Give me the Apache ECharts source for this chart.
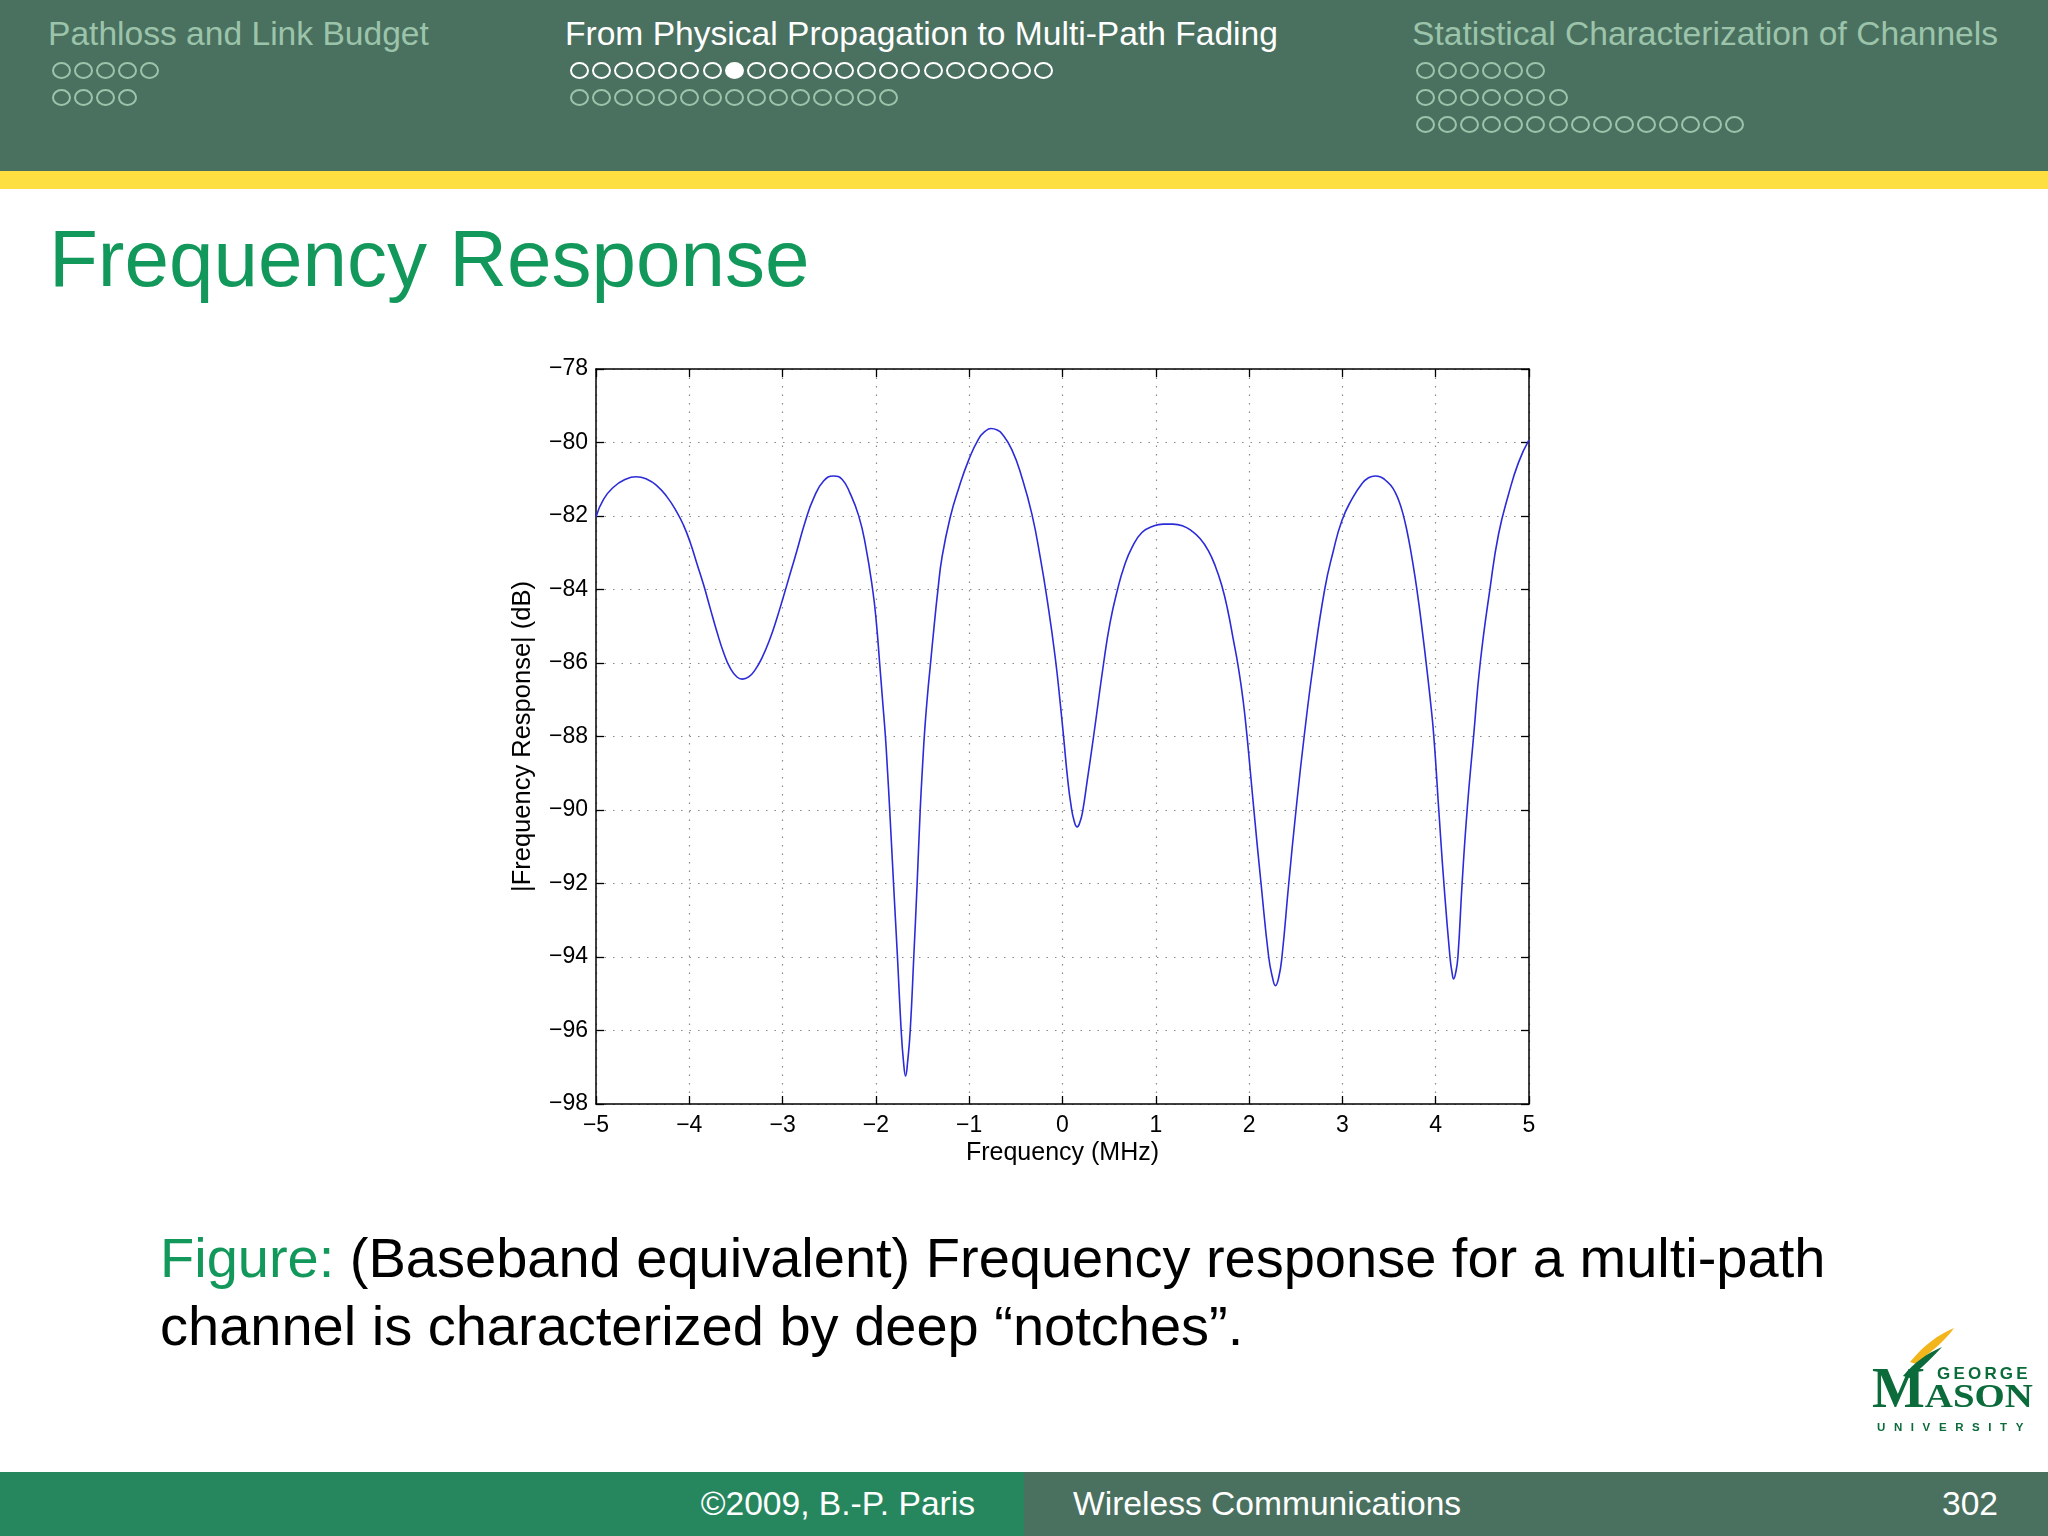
<!DOCTYPE html>
<html>
<head>
<meta charset="utf-8">
<script src="https://cdn.jsdelivr.net/npm/echarts@6/dist/echarts.min.js"></script>
<style>
html,body{margin:0;padding:0;}
body{width:2048px;height:1536px;position:relative;overflow:hidden;background:#fff;font-family:"Liberation Sans",Arial,sans-serif;}
#head{position:absolute;left:0;top:0;width:2048px;height:171px;background:#4a7160;}
#yel{position:absolute;left:0;top:171px;width:2048px;height:18px;background:#fddf42;}
.sec{position:absolute;font-size:33.6px;line-height:33px;white-space:nowrap;}
.dim{color:#9cc4aa;}
.act{color:#ffffff;}
.row{position:absolute;height:17px;white-space:nowrap;font-size:0;}
.dot{display:inline-block;width:15px;height:13px;border:2px solid #9cc4aa;border-radius:50%;margin-right:3.1px;}
.row.act .dot{border-color:#ffffff;}
.dot.full{background:#ffffff;}
#title{position:absolute;left:49px;top:214px;font-size:80px;line-height:90px;color:#12985a;white-space:nowrap;}
#cap{position:absolute;left:160px;top:1224px;font-size:56px;line-height:68px;color:#000;white-space:nowrap;}
#cap span{color:#12985a;}
#footL{position:absolute;left:0;top:1472px;width:1024px;height:64px;background:#26875f;}
#footR{position:absolute;left:1024px;top:1472px;width:1024px;height:64px;background:#4a7160;}
.ft{position:absolute;top:1487px;font-size:33.6px;line-height:34px;color:#fff;white-space:nowrap;}
#chart{position:absolute;left:0;top:0;width:2048px;height:1536px;}
#logo{position:absolute;left:1870px;top:1320px;width:170px;height:120px;}
</style>
</head>
<body>
<div id="head"></div>
<div id="yel"></div>
<div class="sec dim" style="left:48px;top:17px;">Pathloss and Link Budget</div>
<div class="sec act" style="left:565px;top:17px;">From Physical Propagation to Multi-Path Fading</div>
<div class="sec dim" style="left:1412px;top:17px;">Statistical Characterization of Channels</div>
<div id="dots"></div>
<div id="title">Frequency Response</div>
<div id="chart"></div>
<div id="cap"><span>Figure:</span> (Baseband equivalent) Frequency response for a multi-path<br>channel is characterized by deep “notches”.</div>
<div id="footL"></div>
<div id="footR"></div>
<div class="ft" style="right:1073px;">©2009, B.-P. Paris</div>
<div class="ft" style="left:1073px;">Wireless Communications</div>
<div class="ft" style="right:50px;">302</div>
<svg id="logo" viewBox="0 0 170 120">
  <path d="M40 42 C55 24 68 15 84 8 C76 20 62 31 46 44 Z" fill="#f2b61c"/>
  <path d="M33 56 C45 42 56 34 72 27 C63 37 52 47 40 58 Z" fill="#0b6b3a"/>
  <text x="67" y="59" font-family="Liberation Sans" font-weight="bold" font-size="17" letter-spacing="3.2" fill="#0b6b3a">GEORGE</text>
  <text x="2" y="87" font-family="Liberation Serif" font-weight="bold" fill="#0b6b3a"><tspan font-size="56">M</tspan><tspan font-size="34" textLength="108" lengthAdjust="spacingAndGlyphs">ASON</tspan></text>
  <text x="7" y="111" font-family="Liberation Sans" font-weight="bold" font-size="11.5" letter-spacing="8.6" fill="#0b6b3a">UNIVERSITY</text>
</svg>
<script>
// ---- data ----
var freqMHz = [
 -5.000,-4.918,-4.810,-4.700,-4.571,-4.454,-4.346,-4.239,-4.132,-4.060,
 -3.990,-3.918,-3.846,-3.775,-3.704,-3.632,-3.561,-3.489,-3.432,-3.364,
 -3.293,-3.221,-3.132,-3.061,-3.000,-2.918,-2.846,-2.757,-2.668,-2.561,
 -2.453,-2.363,-2.274,-2.185,-2.113,-2.035,-1.995,-1.960,-1.929,-1.898,
 -1.874,-1.852,-1.811,-1.769,-1.729,-1.704,-1.682,-1.660,-1.632,-1.594,
 -1.558,-1.525,-1.500,-1.476,-1.446,-1.416,-1.378,-1.337,-1.290,-1.200,
 -1.113,-1.006,-0.899,-0.830,-0.767,-0.700,-0.649,-0.542,-0.435,-0.328,
 -0.238,-0.160,-0.078,-0.024,0.015,0.055,0.090,0.125,0.157,0.188,
 0.215,0.265,0.333,0.441,0.510,0.590,0.660,0.744,0.851,0.970,
 1.080,1.184,1.290,1.380,1.476,1.560,1.640,1.710,1.770,1.830,
 1.887,1.935,1.976,2.015,2.055,2.128,2.210,2.250,2.283,2.318,
 2.352,2.425,2.503,2.590,2.690,2.810,2.900,2.995,3.102,3.209,
 3.280,3.352,3.420,3.459,3.520,3.566,3.610,3.650,3.690,3.735,
 3.778,3.820,3.860,3.900,3.940,3.980,4.033,4.088,4.153,4.175,
 4.192,4.215,4.238,4.283,4.337,4.406,4.477,4.584,4.674,4.781,
 4.888,5.000
];
var responseDb = [
 -82.02,-81.54,-81.21,-81.02,-80.93,-81.00,-81.18,-81.48,-81.90,-82.26,
 -82.72,-83.30,-83.88,-84.52,-85.15,-85.72,-86.14,-86.38,-86.44,-86.38,
 -86.18,-85.86,-85.32,-84.78,-84.27,-83.56,-82.94,-82.15,-81.52,-81.05,
 -80.91,-81.00,-81.40,-81.99,-82.77,-84.00,-84.90,-86.00,-87.00,-88.00,
 -89.00,-90.00,-92.00,-94.00,-96.00,-96.85,-97.24,-96.85,-96.00,-94.00,
 -92.00,-90.00,-88.80,-87.80,-86.85,-86.05,-85.05,-84.05,-83.10,-82.00,
 -81.25,-80.48,-79.90,-79.70,-79.62,-79.66,-79.76,-80.20,-80.95,-81.95,
 -83.13,-84.35,-85.85,-87.10,-88.10,-89.15,-89.85,-90.30,-90.46,-90.32,
 -90.05,-89.20,-88.00,-86.00,-84.90,-84.00,-83.38,-82.86,-82.45,-82.28,
 -82.22,-82.22,-82.27,-82.40,-82.62,-82.93,-83.38,-83.92,-84.55,-85.35,
 -86.15,-87.00,-87.95,-89.00,-90.10,-92.00,-94.00,-94.55,-94.78,-94.55,
 -94.00,-92.00,-90.00,-88.00,-86.00,-84.00,-82.98,-82.12,-81.54,-81.12,
 -80.96,-80.91,-80.95,-81.02,-81.17,-81.36,-81.62,-81.95,-82.38,-82.98,
 -83.65,-84.40,-85.20,-86.05,-86.95,-88.00,-90.00,-92.00,-94.00,-94.42,
 -94.60,-94.42,-94.00,-92.00,-90.00,-88.00,-86.00,-83.94,-82.49,-81.41,
 -80.54,-79.93
];
var xTicks = [-5,-4,-3,-2,-1,0,1,2,3,4,5];
var yTicks = [-98,-96,-94,-92,-90,-88,-86,-84,-82,-80,-78];
var xLabel = 'Frequency (MHz)';
var yLabel = '|Frequency Response| (dB)';

// ---- header navigation dots ----
var navRows = [
  {x:52, y:62, n:5, active:false, fill:-1},
  {x:52, y:89, n:4, active:false, fill:-1},
  {x:570, y:62, n:22, active:true, fill:7},
  {x:570, y:89, n:15, active:false, fill:-1},
  {x:1416, y:62, n:6, active:false, fill:-1},
  {x:1416, y:89, n:7, active:false, fill:-1},
  {x:1416, y:116, n:15, active:false, fill:-1}
];
var dotsHtml = '';
navRows.forEach(function(r){
  var s = '<div class="row' + (r.active ? ' act' : '') + '" style="left:' + r.x + 'px;top:' + r.y + 'px;">';
  for (var i = 0; i < r.n; i++) s += '<span class="dot' + (i === r.fill ? ' full' : '') + '"></span>';
  dotsHtml += s + '</div>';
});
document.getElementById('dots').innerHTML = dotsHtml;

// ---- chart ----
function fmt(v){ return String(v).replace('-', '\u2212'); }
var seriesData = freqMHz.map(function(f, i){ return [f, responseDb[i]]; });
var txt = {fontFamily:'Liberation Sans', fontSize:23, color:'#000'};
var chart = echarts.init(document.getElementById('chart'), null, {renderer:'canvas'});
var gridLine = {show:true, lineStyle:{color:'#8a8a8a', width:1.2, type:[1.5,7]}};
chart.setOption({
  animation:false,
  backgroundColor:'transparent',
  grid:{left:596, top:369, width:933, height:735, containLabel:false},
  xAxis:[
    {type:'value', position:'bottom', min:xTicks[0], max:xTicks[xTicks.length-1], interval:1,
     axisLine:{show:true, onZero:false, lineStyle:{color:'#000', width:1.5}},
     axisTick:{show:true, inside:true, length:8, lineStyle:{color:'#000', width:1.3}},
     axisLabel:Object.assign({margin:10, formatter:fmt}, txt),
     splitLine:gridLine,
     name:xLabel, nameLocation:'middle', nameGap:37,
     nameTextStyle:{fontFamily:'Liberation Sans', fontSize:25, color:'#000'}},
    {type:'value', position:'top', min:xTicks[0], max:xTicks[xTicks.length-1], interval:1,
     axisLine:{show:true, onZero:false, lineStyle:{color:'#000', width:1.5}},
     axisTick:{show:true, inside:true, length:8, lineStyle:{color:'#000', width:1.3}},
     axisLabel:{show:false}, splitLine:{show:false}}
  ],
  yAxis:[
    {type:'value', position:'left', min:yTicks[0], max:yTicks[yTicks.length-1], interval:2,
     axisLine:{show:true, onZero:false, lineStyle:{color:'#000', width:1.5}},
     axisTick:{show:true, inside:true, length:8, lineStyle:{color:'#000', width:1.3}},
     axisLabel:Object.assign({margin:8, formatter:fmt}, txt),
     splitLine:gridLine,
     name:yLabel, nameLocation:'middle', nameGap:60, nameRotate:90,
     nameTextStyle:{fontFamily:'Liberation Sans', fontSize:25.5, color:'#000'}},
    {type:'value', position:'right', min:yTicks[0], max:yTicks[yTicks.length-1], interval:2,
     axisLine:{show:true, onZero:false, lineStyle:{color:'#000', width:1.5}},
     axisTick:{show:true, inside:true, length:8, lineStyle:{color:'#000', width:1.3}},
     axisLabel:{show:false}, splitLine:{show:false}}
  ],
  series:[{
    type:'line', xAxisIndex:0, yAxisIndex:0, data:seriesData,
    showSymbol:false, smooth:0.5,
    lineStyle:{color:'#2b2bd8', width:1.6}
  }]
});
</script>
</body>
</html>
